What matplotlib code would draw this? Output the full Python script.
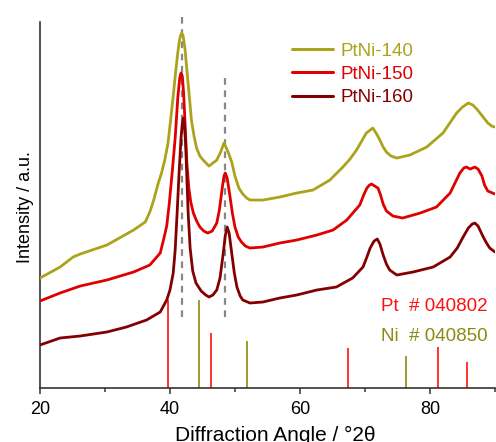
import numpy as np
import matplotlib
matplotlib.use("Agg")
import matplotlib.pyplot as plt

plt.rcParams["font.family"] = ["Liberation Sans", "DejaVu Sans"]

# ---- data (offset stacked intensities) ----
x_140 = [20, 23.1, 25.1, 26.2, 30.3, 34.4, 36.2, 36.9, 37.5, 38.2, 38.7, 39.2, 39.7, 40.1,
         40.5, 40.9, 41.2, 41.4, 41.6, 41.8, 42.0, 42.3, 42.6, 43.0, 43.3, 43.7, 44.1,
         44.6, 45.1, 46.0, 47.2, 47.8, 48.3, 48.6, 49.0, 49.5, 50.0, 50.6, 51.2, 51.8,
         52.3, 54.3, 56.9, 59.5, 62.0, 64.6, 66.6, 67.7, 68.7, 69.5, 70.2, 70.6, 71.2,
         71.8, 72.3, 72.8, 73.3, 74.0, 74.9, 76.9, 79.5, 82.0, 84.1, 85.0, 85.9, 86.6,
         87.2, 87.7, 88.3, 88.9, 89.5, 90]
y_140 = [110, 121, 131, 134, 143, 158, 166, 176, 188, 205, 215, 228, 245, 268,
         292, 318, 335, 345, 352, 355, 353, 340, 318, 290, 268, 252, 240,
         232, 228, 222, 228, 236, 245, 241, 235, 226, 212, 200, 194, 190,
         188, 188, 191, 195, 198, 208, 221, 229, 238, 247, 255, 257, 260,
         254, 248, 241, 236, 232, 230, 233, 241, 255, 275, 281, 285, 283,
         279, 275, 270, 265, 262, 261]

x_150 = [20, 23.1, 26.2, 30.3, 34.4, 36.9, 38.5, 39.0, 39.5, 39.9, 40.4, 40.8, 41.2, 41.5,
         41.7, 41.9, 42.1, 42.3, 42.6, 42.9, 43.2, 43.6, 44.1, 44.6, 45.2, 45.8, 46.5,
         47.2, 47.6, 48.0, 48.3, 48.5, 48.8, 49.2, 49.6, 50.0, 50.5, 51.0, 51.6, 52.3,
         54.3, 56.9, 59.5, 62.6, 65.1, 67.2, 69.2, 69.8, 70.3, 70.7, 71.0, 71.5, 72.0,
         72.4, 72.8, 73.3, 74.3, 75.8, 78.5, 81.0, 83.1, 84.0, 84.6, 85.2, 85.6, 86.2,
         86.9, 87.4, 88.0, 88.4, 88.9, 90]
y_150 = [87, 95, 102, 108, 116, 123, 135, 148, 162, 185, 220, 250, 290, 310,
         315, 312, 295, 268, 225, 200, 186, 175, 167, 161, 157, 155, 157,
         165, 178, 198, 212, 215, 210, 193, 175, 161, 151, 146, 142, 140,
         141, 145, 148, 153, 158, 168, 183, 193, 200, 203, 204, 202, 200,
         193, 184, 177, 172, 170, 175, 181, 195, 207, 215, 220, 221, 219,
         221, 219, 212, 203, 197, 194]

x_160 = [20, 23.1, 26.2, 30.3, 33.3, 36.4, 38.5, 39.5, 40.0, 40.5, 40.8, 41.1, 41.4, 41.7,
         41.9, 42.05, 42.2, 42.4, 42.6, 42.8, 43.1, 43.5, 44.0, 44.8, 45.5, 46.0, 46.6,
         47.2, 47.7, 48.2, 48.5, 48.8, 49.1, 49.5, 49.9, 50.3, 50.8, 51.2, 52.3, 54.3,
         56.9, 59.5, 62.6, 65.6, 68.1, 69.7, 70.3, 70.8, 71.4, 71.9, 72.3, 72.8, 73.3,
         73.8, 74.9, 77.4, 80.5, 83.1, 84.2, 85.1, 85.9, 86.5, 86.9, 87.4, 88.2, 88.7,
         89.2, 90]
y_160 = [43, 50, 52, 56, 61, 68, 76, 88, 98, 115, 138, 175, 215, 250,
         265, 270, 265, 245, 210, 175, 140, 117, 105, 97, 93, 91, 93,
         98, 110, 135, 152, 161, 155, 135, 115, 101, 92, 88, 85, 86,
         90, 93, 98, 101, 110, 121, 131, 140, 147, 149, 144, 133, 124,
         118, 113, 116, 121, 131, 140, 151, 160, 164, 165, 162, 151, 145,
         140, 136]

labels = ["PtNi-140", "PtNi-150", "PtNi-160"]
colors = ["#ABA31B", "#E00000", "#840000"]

pt_pos = [39.76, 46.24, 67.45, 81.29, 85.71]
pt_int = [88, 55, 40, 41, 26]
ni_pos = [44.5, 51.85, 76.37]
ni_int = [88, 47, 32]

ref_lines = [41.8, 48.4]
ref_top = [374, 311]
ref_bottom = 71

# ---- figure ----
fig = plt.figure(figsize=(4.96, 4.42), dpi=100)
ax = fig.add_axes([0.0806, 0.1222, 0.9173, 0.855])

for xv, yt in zip(ref_lines, ref_top):
    ax.plot([xv, xv], [ref_bottom, yt], color="#888888", lw=1.6, ls=(0, (3, 2.5)), zorder=1)

for xs, ys, lab, c in zip([x_140, x_150, x_160], [y_140, y_150, y_160], labels, colors):
    ax.plot(xs, ys, color=c, lw=2.0, label=lab, zorder=3,
            solid_joinstyle="round", solid_capstyle="round")

ax.vlines(pt_pos, 0, pt_int, color="#FF1010", lw=1.2, zorder=2)
ax.vlines(ni_pos, 0, ni_int, color="#8C8A10", lw=1.2, zorder=2)

ax.text(88.8, 82, "Pt  # 040802", color="#FF1010", fontsize=13.5, ha="right", va="center")
ax.text(88.8, 51, "Ni  # 040850", color="#8C8A10", fontsize=13.5, ha="right", va="center")

leg = ax.legend(loc="upper left", bbox_to_anchor=(0.553, 0.914), frameon=False,
                fontsize=13.5, handlelength=2.2, handletextpad=0.4, labelspacing=0.33,
                borderpad=0, borderaxespad=0, labelcolor=colors)
for h in leg.get_lines():
    h.set_linewidth(2.2)

ax.set_xlim(20, 90)
ax.set_ylim(0, 378)
ax.set_xticks([20, 40, 60, 80])
ax.set_xticks([30, 50, 70, 90], minor=True)
ax.set_yticks([])
ax.tick_params(axis="x", which="major", direction="out", length=4, width=1.1,
               labelsize=13, pad=5.5, colors="#333333", labelcolor="black")
ax.tick_params(axis="x", which="minor", direction="out", length=3, width=1.1, colors="#333333")

for s in ["top", "right"]:
    ax.spines[s].set_visible(False)
for s in ["left", "bottom"]:
    ax.spines[s].set_linewidth(1.2)
    ax.spines[s].set_color("#333333")
ax.spines["left"].set_bounds(0, 366)

ax.set_xlabel("Diffraction Angle / \u00b02\u03b8", fontsize=15)
ax.xaxis.set_label_coords(0.518, -0.1)
ax.set_ylabel("Intensity / a.u.", fontsize=13)
ax.yaxis.set_label_coords(-0.014, 0.48)
ax.patch.set_alpha(0)

fig.savefig("out.png", dpi=100)
